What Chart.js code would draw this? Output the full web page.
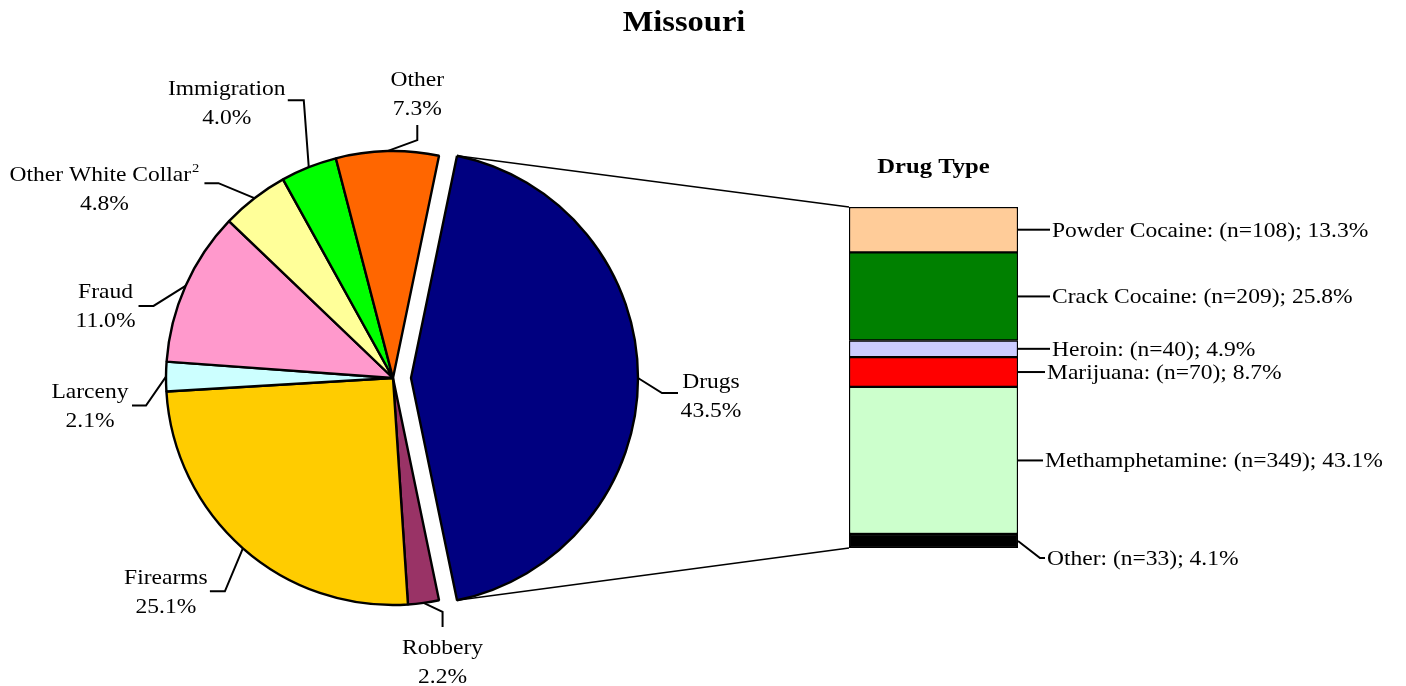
<!DOCTYPE html>
<html>
<head>
<meta charset="utf-8">
<script src="https://cdn.jsdelivr.net/npm/chart.js@4.4.1/dist/chart.umd.min.js"></script>
<style>
  body { margin: 0; background: #fff; }
  #wrap { position: relative; width: 1406px; height: 686px; }
  #wrap canvas { position: absolute; left: 0; top: 0; }
</style>
</head>
<body>
<div id="wrap">
  <canvas id="offenseChart" width="1406" height="686"></canvas>
  <canvas id="drugChart" width="1406" height="686"></canvas>
</div>
<script>
// offense types (pie), clockwise from the exploded slice
const offenseLabels = ["Drugs", "Robbery", "Firearms", "Larceny", "Fraud", "Other White Collar", "Immigration", "Other"];
const offenseShares = [43.5, 2.2, 25.1, 2.1, 11.0, 4.8, 4.0, 7.3];
const offenseNotes = ["", "", "", "", "", "2", "", ""];
const offenseColors = ["#000080", "#993366", "#ffcc00", "#ccffff", "#ff99cc", "#ffff99", "#00ff00", "#ff6600"];

// drug types (stacked bar), top to bottom
const drugLabels = ["Powder Cocaine", "Crack Cocaine", "Heroin", "Marijuana", "Methamphetamine", "Other"];
const drugCounts = [108, 209, 40, 70, 349, 33];
const drugShares = [13.3, 25.8, 4.9, 8.7, 43.1, 4.1];
const drugColors = ["#ffcc99", "#008000", "#ccccff", "#ff0000", "#ccffcc", "#000000"];

const FONT = '"Liberation Serif", "Times New Roman", serif';
const STRETCH = 1.12; // the source text is a bit wider than plain Times

function drawText(ctx, text, x, y, size, bold, align) {
  ctx.save();
  ctx.font = (bold ? "bold " : "") + size + "px " + FONT;
  const w = ctx.measureText(text).width * STRETCH;
  const left = align === "center" ? x - w / 2 : x;
  ctx.translate(left, y);
  ctx.scale(STRETCH, 1);
  ctx.textAlign = "left";
  ctx.textBaseline = "alphabetic";
  ctx.fillStyle = "#000";
  ctx.fillText(text, 0, 0);
  ctx.restore();
  return w;
}

function textWidth(ctx, text, size) {
  ctx.save();
  ctx.font = size + "px " + FONT;
  const w = ctx.measureText(text).width * STRETCH;
  ctx.restore();
  return w;
}

function polyline(ctx, pts, width) {
  ctx.save();
  ctx.strokeStyle = "#000";
  ctx.lineWidth = width;
  ctx.beginPath();
  ctx.moveTo(pts[0][0], pts[0][1]);
  for (let i = 1; i < pts.length; i++) ctx.lineTo(pts[i][0], pts[i][1]);
  ctx.stroke();
  ctx.restore();
}

// leader lines and label blocks, relative to the slice's mid point on the rim
const pieLabelLayout = [
  { elbow: [24, 15], end: [40, 15], text: [73, 17] },
  { elbow: [19, 9], end: [19, 24], text: [19, 59] },
  { elbow: [-18, 43], end: [-33, 43], text: [-77, 43] },
  { elbow: [-20, 29], end: [-34, 29], text: [-76, 29] },
  { elbow: [-32, 20], end: [-47, 20], text: [-80, 20] },
  { elbow: [-36, -15], end: [-50, -15], text: [-150, -10] },
  { elbow: [-5, -67], end: [-21, -67], text: [-82, -65] },
  { elbow: [30, -11], end: [30, -26], text: [30, -58] },
];

const explode = 18;
const pieRotation = 90 - (offenseShares[0] / 100) * 360 / 2;

const pieLabels = {
  id: "pieLabels",
  afterDatasetUpdate(chart, args) {
    const arc = args.meta.data[0];
    const mid = (arc.startAngle + arc.endAngle) / 2;
    arc.x += explode * Math.cos(mid);
    arc.y += explode * Math.sin(mid);
  },
  afterDraw(chart) {
    const ctx = chart.ctx;
    drawText(ctx, "Missouri", 684, 31, 29, true, "center");

    chart.getDatasetMeta(0).data.forEach((arc, i) => {
      const mid = (arc.startAngle + arc.endAngle) / 2;
      const ax = arc.x + arc.outerRadius * Math.cos(mid);
      const ay = arc.y + arc.outerRadius * Math.sin(mid);
      const lay = pieLabelLayout[i];
      polyline(ctx, [
        [ax, ay],
        [ax + lay.elbow[0], ay + lay.elbow[1]],
        [ax + lay.end[0], ay + lay.end[1]],
      ], 2);

      const cx = ax + lay.text[0];
      const cy = ay + lay.text[1];
      const name = offenseLabels[i];
      const note = offenseNotes[i];
      if (note) {
        const w1 = textWidth(ctx, name, 21);
        const w2 = textWidth(ctx, note, 13);
        const left = cx - (w1 + w2 + 1) / 2;
        drawText(ctx, name, left, cy - 14.5 + 7, 21, false, "left");
        drawText(ctx, note, left + w1 + 1, cy - 14.5 - 2, 13, false, "left");
      } else {
        drawText(ctx, name, cx, cy - 14.5 + 7, 21, false, "center");
      }
      drawText(ctx, offenseShares[i].toFixed(1) + "%", cx, cy + 14.5 + 7, 21, false, "center");
    });
  },
};

const offenseChart = new Chart(document.getElementById("offenseChart"), {
  type: "pie",
  data: {
    labels: offenseLabels,
    datasets: [{
      data: offenseShares,
      backgroundColor: offenseColors,
      borderColor: "#000",
      borderWidth: 2.4,
    }],
  },
  options: {
    responsive: false,
    animation: false,
    events: [],
    rotation: pieRotation,
    radius: 227,
    layout: { padding: { left: 0, right: 620, top: 70, bottom: 0 } },
    plugins: {
      legend: { display: false },
      tooltip: { enabled: false },
    },
  },
  plugins: [pieLabels],
});

// leader lines for the bar labels: length, and an optional drop before the tail
const barLabelLayout = [
  { len: 32 },
  { len: 32 },
  { len: 32 },
  { len: 27 },
  { len: 25 },
  { drop: [22, 17], len: 27 },
];

const drugTotal = drugShares.reduce((a, b) => a + b, 0);

const barLabels = {
  id: "barLabels",
  afterDraw(chart) {
    const ctx = chart.ctx;
    const n = drugLabels.length;
    const topEl = chart.getDatasetMeta(n - 1).data[0];
    const barLeft = topEl.x - topEl.width / 2;
    const barTop = chart.scales.y.getPixelForValue(drugTotal);
    const barBottom = chart.scales.y.getPixelForValue(0);

    drawText(ctx, "Drug Type", topEl.x, barTop - 34, 22, true, "center");

    // connectors from the exploded slice to the bar
    const arc = offenseChart.getDatasetMeta(0).data[0];
    const r = arc.outerRadius;
    polyline(ctx, [[arc.x + r * Math.cos(arc.startAngle), arc.y + r * Math.sin(arc.startAngle)], [barLeft, barTop]], 1.6);
    polyline(ctx, [[arc.x + r * Math.cos(arc.endAngle), arc.y + r * Math.sin(arc.endAngle)], [barLeft, barBottom]], 1.6);

    drugLabels.forEach((label, i) => {
      const el = chart.getDatasetMeta(n - 1 - i).data[0];
      const right = el.x + el.width / 2;
      const midY = (el.y + el.base) / 2;
      const lay = barLabelLayout[i];
      const pts = [[right, midY]];
      let endY = midY;
      if (lay.drop) {
        endY = midY + lay.drop[1];
        pts.push([right + lay.drop[0], endY]);
      }
      pts.push([right + lay.len, endY]);
      polyline(ctx, pts, 2);
      const text = label + ": (n=" + drugCounts[i] + "); " + drugShares[i].toFixed(1) + "%";
      drawText(ctx, text, right + lay.len + 2, endY + 7, 21, false, "left");
    });
  },
};

new Chart(document.getElementById("drugChart"), {
  type: "bar",
  data: {
    labels: ["Drugs"],
    datasets: drugLabels.map((label, i) => ({
      label: label,
      data: [drugShares[i]],
      backgroundColor: drugColors[i],
      borderColor: "#000",
      borderWidth: 1.5,
      borderSkipped: false,
    })).reverse(),
  },
  options: {
    responsive: false,
    animation: false,
    events: [],
    layout: { padding: { left: 849, right: 388, top: 207, bottom: 138 } },
    datasets: { bar: { barPercentage: 1, categoryPercentage: 1 } },
    scales: {
      x: { display: false, stacked: true },
      y: { display: false, stacked: true, min: 0, max: drugTotal },
    },
    plugins: {
      legend: { display: false },
      tooltip: { enabled: false },
    },
  },
  plugins: [barLabels],
});
</script>
</body>
</html>
